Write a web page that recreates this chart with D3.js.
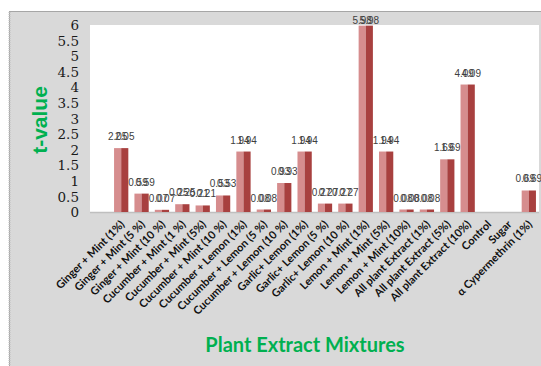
<!DOCTYPE html>
<html>
<head>
<meta charset="utf-8">
<script src="https://cdn.jsdelivr.net/npm/d3@7"></script>
<style>
  html, body { margin: 0; padding: 0; background: #ffffff; }
  svg { display: block; }
</style>
</head>
<body>
<svg id="chart" width="541" height="366"></svg>
<script>
const categories = [
  "Ginger + Mint (1%)", "Ginger + Mint (5 %)", "Ginger + Mint (10 %)",
  "Cucumber + Mint (1 %)", "Cucumber + Mint (5%)", "Cucumber + Mint (10 %)",
  "Cucumber + Lemon (1%)", "Cucumber + Lemon (5 %)", "Cucumber + Lemon (10 %)",
  "Garlic+ Lemon (1%)", "Garlic+ Lemon (5 %)", "Garlic+ Lemon (10 %)",
  "Lemon + Mint (1%)", "Lemon + Mint (5%)", "Lemon + Mint (10%)",
  "All plant Extract (1%)", "All plant Extract (5%)", "All plant Extract (10%)",
  "Control", "Sugar", "α Cypermethrin (1%)"
];
const series1 = [2.05, 0.59, 0.07, 0.25, 0.21, 0.53, 1.94, 0.08, 0.93, 1.94, 0.27, 0.27, 5.98, 1.94, 0.08, 0.08, 1.69, 4.09, null, null, 0.69];
const series2 = [2.05, 0.59, 0.07, 0.25, 0.21, 0.53, 1.94, 0.08, 0.93, 1.94, 0.27, 0.27, 5.98, 1.94, 0.08, 0.08, 1.69, 4.09, null, null, 0.69];
const yTicks = [0, 0.5, 1, 1.5, 2, 2.5, 3, 3.5, 4, 4.5, 5, 5.5, 6];
const yTitle = "t-value";
const xTitle = "Plant Extract Mixtures";

const svg = d3.select("#chart");
const colors = { s1: "#d68d8e", s2: "#a8403f" };

// outer grey panel
svg.append("rect").attr("x", 9.5).attr("y", 11.5).attr("width", 540).attr("height", 360)
  .attr("fill", "#d9d9d9").attr("stroke", "#a6a6a6").attr("stroke-width", 1);
svg.append("line").attr("x1", 9.5).attr("x2", 9.5).attr("y1", 12).attr("y2", 366)
  .attr("stroke", "#bdbdbd").attr("stroke-width", 2).attr("stroke-dasharray", "1,1");

const plot = { left: 90, right: 539, top: 25, bottom: 212 };
svg.append("rect").attr("x", plot.left).attr("y", plot.top)
  .attr("width", plot.right - plot.left).attr("height", plot.bottom - plot.top)
  .attr("fill", "#ffffff");

const y = d3.scaleLinear().domain([0, 6]).range([plot.bottom, plot.top]);
const x0 = d3.scaleBand().domain(categories).range([111, 539]).paddingInner(0.3).paddingOuter(0.15);
const x1 = d3.scaleBand().domain(["s1", "s2"]).range([0, x0.bandwidth()]);

// y axis
const yAxis = d3.axisLeft(y).tickValues(yTicks).tickSize(0).tickPadding(0)
  .tickFormat(d => String(d));
const gy = svg.append("g").attr("transform", "translate(79,0)").call(yAxis);
gy.select(".domain").remove();
gy.selectAll("text").attr("font-family", "'DejaVu Serif', 'Liberation Serif', serif").attr("font-size", 13.5)
  .attr("fill", "#1a1a1a").attr("dy", "0.34em");

// baseline
svg.append("line").attr("x1", plot.left).attr("x2", plot.right)
  .attr("y1", plot.bottom + 0.5).attr("y2", plot.bottom + 0.5)
  .attr("stroke", "#bfbfbf").attr("stroke-width", 1.5);

const rows = categories.map((c, i) => ({ cat: c, vals: [
  { key: "s1", v: series1[i] }, { key: "s2", v: series2[i] } ] }));

const groups = svg.append("g").selectAll("g").data(rows).join("g")
  .attr("transform", d => `translate(${x0(d.cat)},0)`);

groups.selectAll("rect").data(d => d.vals.filter(v => v.v != null)).join("rect")
  .attr("x", d => x1(d.key))
  .attr("width", x1.bandwidth())
  .attr("y", d => y(d.v))
  .attr("height", d => y(0) - y(d.v))
  .attr("fill", d => colors[d.key]);

groups.selectAll("text.lbl").data(d => d.vals.filter(v => v.v != null)).join("text")
  .attr("class", "lbl")
  .attr("x", d => x1(d.key) + x1.bandwidth() / 2)
  .attr("y", d => Math.max(24, y(d.v) - 8))
  .attr("text-anchor", "middle")
  .attr("font-family", "'Liberation Sans', Arial, sans-serif")
  .attr("font-size", 10)
  .attr("fill", "#404040")
  .text(d => d.v.toFixed(2));

// x axis labels
const xAxis = d3.axisBottom(x0).tickSize(0).tickPadding(0);
const gx = svg.append("g").attr("transform", `translate(0,${plot.bottom})`).call(xAxis);
gx.select(".domain").remove();
gx.selectAll("text")
  .attr("font-family", "Lato, sans-serif").attr("font-weight", "bold").attr("font-size", 11)
  .attr("fill", "#111").attr("text-anchor", "end").attr("dy", null)
  .attr("transform", "translate(4,13) rotate(-45)");

// titles
svg.append("text").attr("transform", "translate(47,120) rotate(-90)")
  .attr("text-anchor", "middle").attr("font-family", "'Liberation Sans', Arial, sans-serif")
  .attr("font-weight", "bold").attr("font-size", 21).attr("fill", "#00b050").text(yTitle);

svg.append("text").attr("x", 305).attr("y", 352)
  .attr("text-anchor", "middle").attr("font-family", "Lato, sans-serif")
  .attr("font-weight", "bold").attr("font-size", 20).attr("fill", "#00b050").text(xTitle);
</script>
</body>
</html>
